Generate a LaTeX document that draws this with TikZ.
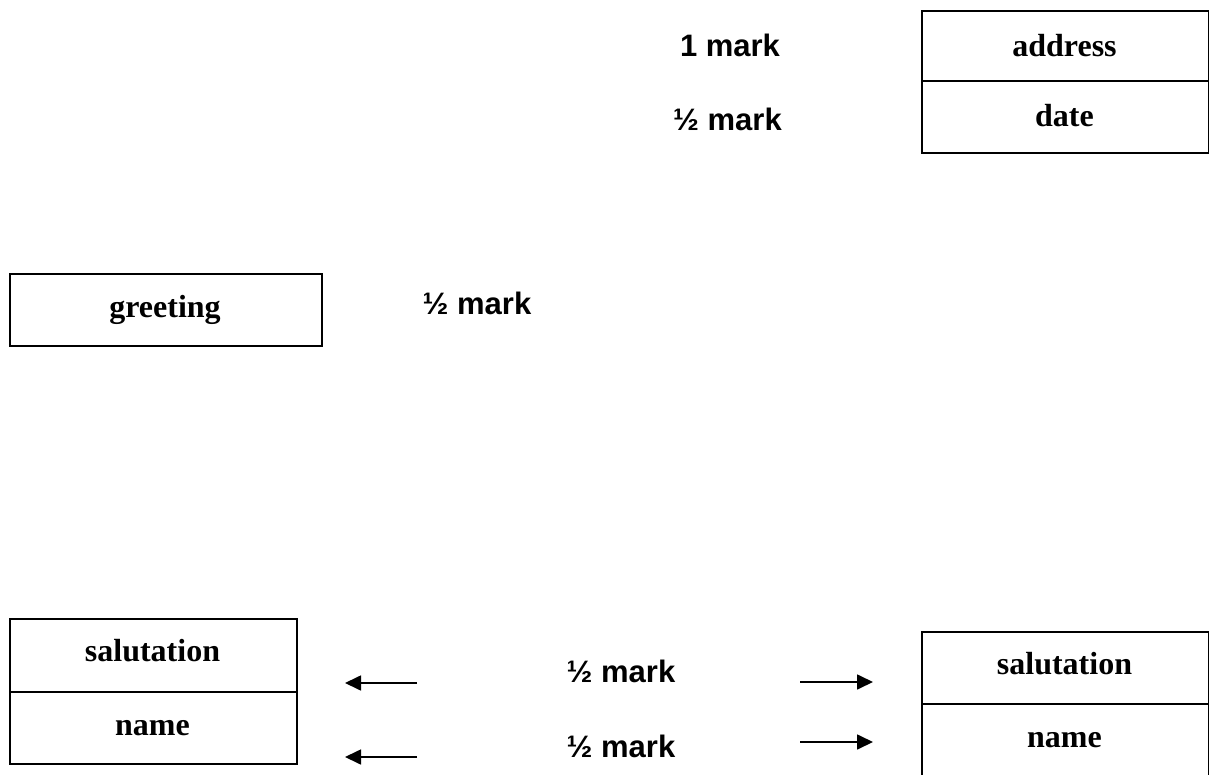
\documentclass[tikz,border=0pt]{standalone}
\usepackage{fontspec}
\setmainfont{Liberation Serif}
\newfontfamily\arialfont{Liberation Sans}
\usetikzlibrary{arrows.meta}
\begin{document}
\begin{tikzpicture}[x=1pt,y=-1pt,
  cell/.style={draw, line width=1.6pt, anchor=north west, inner sep=0pt},
  txt/.style={anchor=base, inner sep=0pt, font=\fontsize{32}{38}\selectfont\bfseries},
  mk/.style={anchor=base, inner sep=0pt, font=\arialfont\fontsize{31}{37}\selectfont\bfseries},
  arr/.style={line width=1.7pt, -{Triangle[length=16pt,width=15pt]}}]
\useasboundingbox (0,0) rectangle (1209,775);
% top right box
\node[cell, minimum width=287pt, minimum height=70pt] (addr) at (921,10) {};
\node[cell, minimum width=287pt, minimum height=72pt] (date) at (921,80) {};
\node[txt] (taddr) at (1064.5,57) {address};
\node[txt] (tdate) at (1064.5,127) {date};
\node[mk] (m1) at (730,57) {1 mark};
\node[mk] (m2) at (727.5,131) {½ mark};
% greeting
\node[cell, minimum width=312pt, minimum height=72pt] (greet) at (9,273) {};
\node[txt] (tgreet) at (165,317) {greeting};
\node[mk] (m3) at (477,315) {½ mark};
% bottom left box
\node[cell, minimum width=287pt, minimum height=73pt] (salL) at (9,618) {};
\node[cell, minimum width=287pt, minimum height=72pt] (nameL) at (9,691) {};
\node[txt] (tsalL) at (152.5,661) {salutation};
\node[txt] (tnameL) at (152.5,735) {name};
% bottom right box
\node[cell, minimum width=287pt, minimum height=72pt] (salR) at (921,631) {};
\node[cell, minimum width=287pt, minimum height=76pt] (nameR) at (921,703) {};
\node[txt] (tsalR) at (1064.5,674) {salutation};
\node[txt] (tnameR) at (1064.5,747) {name};
% middle labels
\node[mk] (m4) at (621,682) {½ mark};
\node[mk] (m5) at (621,757) {½ mark};
% arrows
\coordinate (a1s) at (417,683); \coordinate (a1e) at (345,683);
\coordinate (a2s) at (417,757); \coordinate (a2e) at (345,757);
\coordinate (a3s) at (800,682); \coordinate (a3e) at (873,682);
\coordinate (a4s) at (800,742); \coordinate (a4e) at (873,742);
\draw[arr] (a1s) -- (a1e);
\draw[arr] (a2s) -- (a2e);
\draw[arr] (a3s) -- (a3e);
\draw[arr] (a4s) -- (a4e);
\end{tikzpicture}
\end{document}
